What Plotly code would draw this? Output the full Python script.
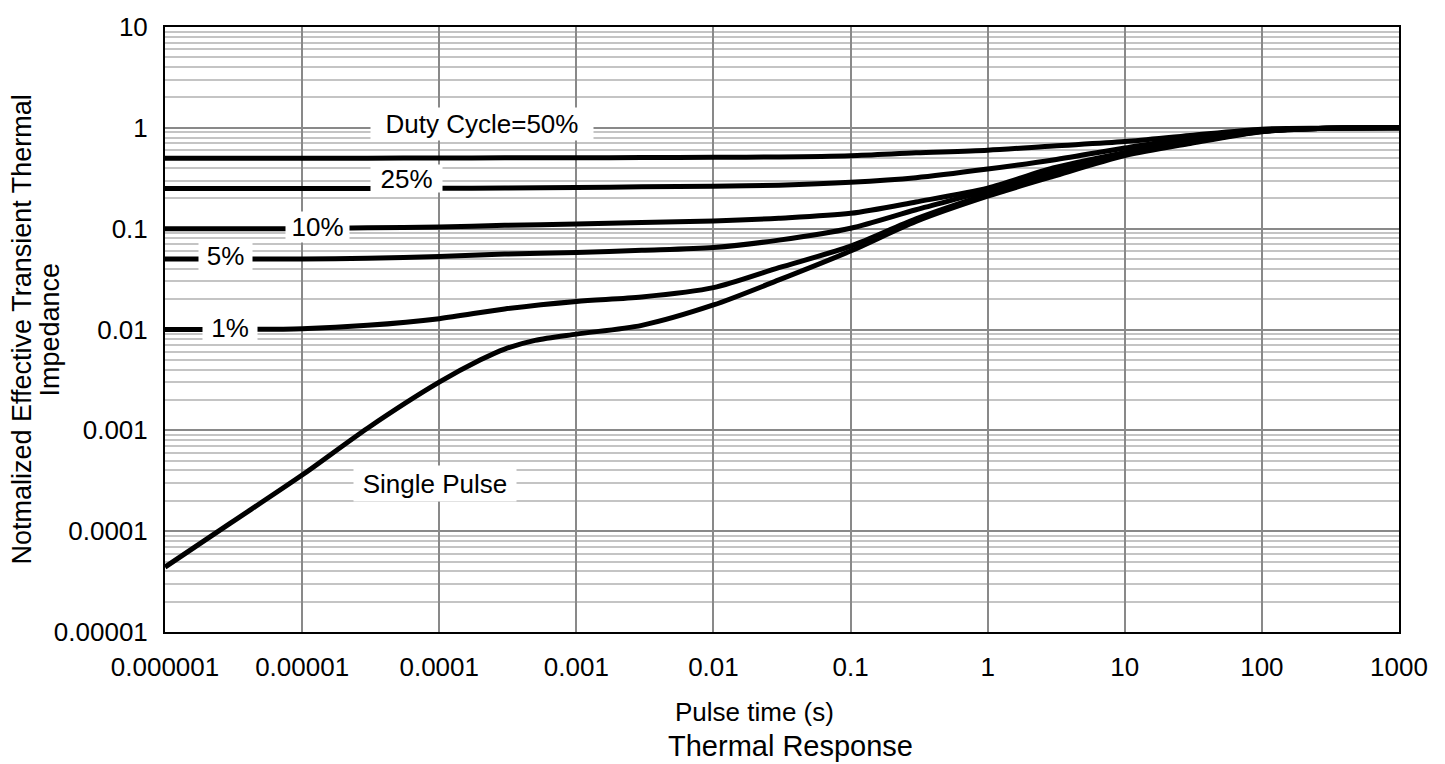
import math
import plotly.graph_objects as go

# ---- data ----
x_dc = [1e-6, 3e-6, 1e-5, 3e-5, 1e-4, 3e-4, 1e-3, 3e-3, 1e-2, 3e-2, 0.1, 0.3, 1, 3, 10, 30, 100, 300, 1000]
dc50 = [0.50, 0.50, 0.50, 0.50, 0.502, 0.504, 0.505, 0.507, 0.51, 0.515, 0.53, 0.565, 0.60, 0.66, 0.73, 0.84, 0.97, 0.99, 1.0]
dc25 = [0.25, 0.25, 0.25, 0.25, 0.251, 0.253, 0.256, 0.26, 0.263, 0.27, 0.288, 0.32, 0.39, 0.48, 0.63, 0.80, 0.95, 0.99, 1.0]
dc10 = [0.10, 0.10, 0.10, 0.102, 0.104, 0.108, 0.111, 0.115, 0.119, 0.127, 0.142, 0.184, 0.252, 0.40, 0.57, 0.76, 0.93, 0.99, 1.0]
dc5 = [0.05, 0.05, 0.05, 0.051, 0.053, 0.056, 0.058, 0.061, 0.065, 0.077, 0.101, 0.154, 0.238, 0.37, 0.555, 0.74, 0.925, 0.99, 1.0]
dc1 = [0.010, 0.010, 0.0102, 0.011, 0.0128, 0.016, 0.019, 0.021, 0.026, 0.041, 0.067, 0.125, 0.22, 0.35, 0.55, 0.72, 0.92, 0.99, 1.0]

x_sp = [1e-6, 3e-6, 1e-5, 3e-5, 1e-4, 2e-4, 3e-4, 5e-4, 1e-3, 3e-3, 1e-2, 3e-2, 0.1, 0.3, 1, 3, 10, 30, 100, 300, 1000]
single = [4.4e-5, 1.2e-4, 3.6e-4, 1.05e-3, 3.0e-3, 5.0e-3, 6.4e-3, 7.8e-3, 9.0e-3, 1.1e-2, 1.75e-2, 3.1e-2, 6.0e-2, 0.118, 0.21, 0.33, 0.53, 0.70, 0.915, 0.99, 1.0]

x_tickvals = [1e-6, 1e-5, 1e-4, 1e-3, 1e-2, 1e-1, 1, 10, 100, 1000]
x_ticktext = ["0.000001", "0.00001", "0.0001", "0.001", "0.01", "0.1", "1", "10", "100", "1000"]
y_tickvals = [1e-5, 1e-4, 1e-3, 1e-2, 1e-1, 1, 10]
y_ticktext = ["0.00001", "0.0001", "0.001", "0.01", "0.1", "1", "10"]
y_minor = [m * 10.0 ** e for e in range(-5, 1) for m in range(2, 10)]

FONT = "Arial, Liberation Sans, sans-serif"

fig = go.Figure()
for xs, ys in [(x_dc, dc50), (x_dc, dc25), (x_dc, dc10), (x_dc, dc5), (x_dc, dc1), (x_sp, single)]:
    fig.add_trace(go.Scatter(x=xs, y=ys, mode="lines",
                             line=dict(color="black", width=5, shape="spline", smoothing=0.8),
                             showlegend=False, hoverinfo="skip"))

# label text, centre (data units), box width, box height
labels = [
    ("Duty Cycle=50%", 2.05e-4, 1.084, 222, 32),
    ("25%", 5.8e-5, 0.312, 71, 27),
    ("10%", 1.29e-5, 0.105, 63, 30),
    ("5%", 2.76e-6, 0.0536, 53, 28),
    ("1%", 2.98e-6, 0.0104, 54, 30),
    ("Single Pulse", 9.3e-5, 2.94e-4, 162, 35),
]
for txt, lx, ly, w, h in labels:
    fig.add_annotation(x=math.log10(lx), y=math.log10(ly), xref="x", yref="y", text=txt,
                       showarrow=False, xanchor="center", yanchor="middle",
                       bgcolor="white", borderpad=0, width=w, height=h,
                       font=dict(family=FONT, size=26, color="black"))

fig.add_annotation(xref="paper", yref="paper", x=0.478, y=-0.1317, text="Pulse time (s)",
                   showarrow=False, xanchor="center", yanchor="middle",
                   font=dict(family=FONT, size=26, color="black"))
fig.add_annotation(xref="paper", yref="paper", x=0.507, y=-0.1886, text="Thermal Response",
                   showarrow=False, xanchor="center", yanchor="middle",
                   font=dict(family=FONT, size=29, color="black"))
fig.add_annotation(xref="paper", yref="paper", x=-0.1159, y=0.5,
                   text="Notmalized Effective Transient Thermal",
                   showarrow=False, xanchor="center", yanchor="middle", textangle=-90,
                   font=dict(family=FONT, size=27, color="black"))
fig.add_annotation(xref="paper", yref="paper", x=-0.0932, y=0.5,
                   text="Impedance",
                   showarrow=False, xanchor="center", yanchor="middle", textangle=-90,
                   font=dict(family=FONT, size=27, color="black"))

fig.update_xaxes(type="log", range=[-6, 3], tickvals=x_tickvals, ticktext=x_ticktext,
                 showgrid=True, gridcolor="#898989", gridwidth=1.5,
                 showline=True, linecolor="black", linewidth=2, mirror=True,
                 ticks="outside", ticklen=11, tickcolor="rgba(0,0,0,0)",
                 tickfont=dict(family=FONT, size=26, color="black"), zeroline=False)
fig.update_yaxes(type="log", range=[-5, 1], tickvals=y_tickvals, ticktext=y_ticktext,
                 showgrid=True, gridcolor="#898989", gridwidth=1.5,
                 minor=dict(tickvals=y_minor, showgrid=True, gridcolor="#c4c4c4", gridwidth=1.5, ticks=""),
                 showline=True, linecolor="black", linewidth=2, mirror=True,
                 ticks="outside", ticklen=10, tickcolor="rgba(0,0,0,0)",
                 tickfont=dict(family=FONT, size=26, color="black"), zeroline=False)

fig.update_layout(width=1445, height=764, margin=dict(l=165, r=46, t=17, b=132),
                  paper_bgcolor="white", plot_bgcolor="white")
fig.write_html("out.html")
